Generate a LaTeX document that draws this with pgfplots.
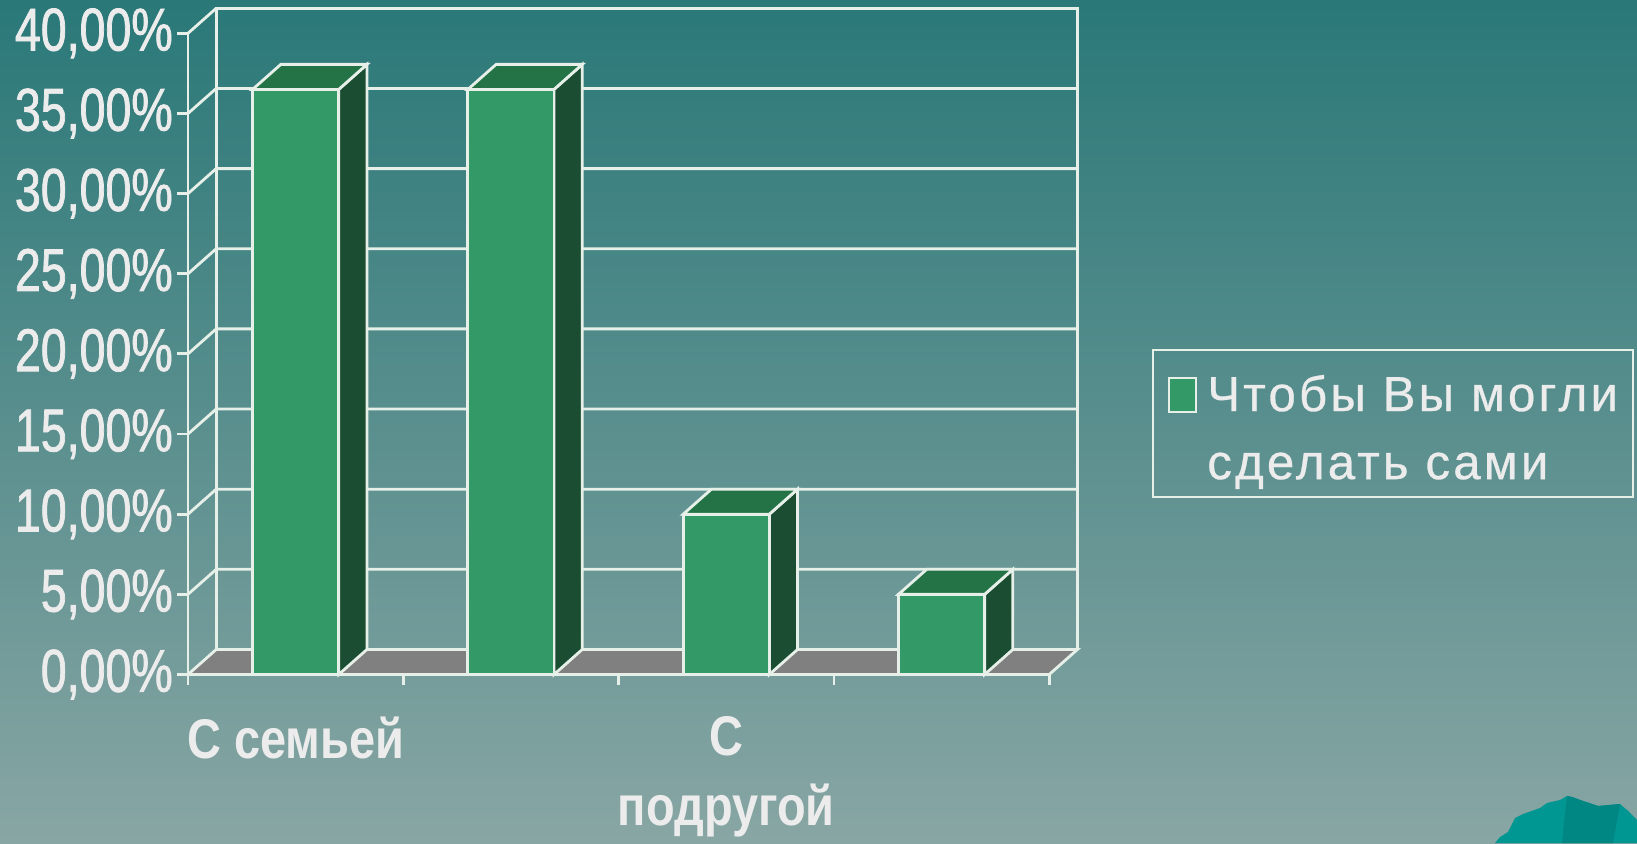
\documentclass[border=0pt]{standalone}
\usepackage{pgfplots}
\pgfplotsset{compat=1.18}
\usepackage{fontspec}
\setmainfont{Liberation Sans}
\newfontfamily\tickfont[FakeStretch=0.77, FakeBold=1.2]{Liberation Sans}
\newfontfamily\catfont[FakeStretch=0.84]{Liberation Sans}
\newfontfamily\legfont[LetterSpace=6.5, FakeBold=0.6]{Liberation Sans}

\definecolor{bgtop}{RGB}{42,120,120}
\definecolor{bgbot}{RGB}{136,166,164}
\definecolor{barfront}{RGB}{51,153,102}
\definecolor{barside}{RGB}{27,77,51}
\definecolor{bartop}{RGB}{35,115,70}
\definecolor{floorgrey}{RGB}{128,128,128}
\definecolor{edge}{RGB}{230,240,232}
\definecolor{textcol}{RGB}{236,236,236}
\definecolor{tealA}{RGB}{0,150,146}
\definecolor{tealB}{RGB}{0,134,131}

\begin{document}
\begin{tikzpicture}
% slide background
\fill[top color=bgtop, bottom color=bgbot] (0,0) rectangle (16.37,8.43);
\fill[tealA] (14.95,0) -- (15.00,0.06) -- (15.08,0.11) -- (15.15,0.25) -- (15.23,0.29)
  -- (15.40,0.35) -- (15.47,0.40) -- (15.60,0.43) -- (15.67,0.47) -- (15.72,0.46)
  -- (15.83,0.42) -- (15.98,0.37) -- (16.20,0.39) -- (16.27,0.33) -- (16.37,0.23)
  -- (16.37,0) -- cycle;
\fill[tealB] (15.67,0.47) -- (15.72,0.46) -- (15.83,0.42) -- (15.98,0.37) -- (16.20,0.39)
  -- (16.13,0) -- (15.62,0) -- cycle;

\begin{axis}[
    at={(1.88cm,1.685cm)}, anchor=south west,
    x=2.153cm, y=0.1603cm,
    xmin=0, xmax=4.131, ymin=0, ymax=41.56,
    enlargelimits=false, clip=false,
    axis line style={draw=none},
    tick pos=left, tick align=outside,
    major tick length=0.11cm,
    tick style={draw=edge, line width=0.8pt},
    xtick={0,1,2,3,4}, xticklabels={},
    extra x ticks={0.5,1.5,2.5,3.5},
    extra x tick labels={С семьей,,{С\\подругой},},
    extra x tick style={major tick length=0pt,
      tick label style={align=center, text=textcol, yshift=-0.30cm,
        font=\catfont\bfseries\fontsize{15.9}{19.8}\selectfont}},
    ytick={0,5,...,40},
    yticklabels={{0,00\%},{5,00\%},{10,00\%},{15,00\%},{20,00\%},{25,00\%},{30,00\%},{35,00\%},{40,00\%}},
    yticklabel style={text=textcol, inner xsep=1pt,
      font=\tickfont\fontsize{17.2}{19}\selectfont},
    legend style={at={(1.084,0.4886)}, anchor=north west,
      draw=edge, line width=0.6pt, fill=none, text=textcol,
      font=\legfont\fontsize{14}{16}\selectfont,
      inner xsep=0.15cm, inner ysep=0.16cm,
      column sep=0.1cm, row sep=0.21cm,
      nodes={inner sep=0pt, text height=0.45cm, text depth=0.02cm},
      cells={anchor=base west}},
  ]

  % floor
  \addplot[fill=floorgrey, draw=edge, line width=0.8pt, forget plot]
    coordinates {(0,0) (4,0) (4.131,1.56) (0.131,1.56)} -- cycle;

  % back wall and gridlines
  \addplot[edge, line width=0.8pt, forget plot]
    coordinates {(0.131,1.56) (0.131,41.56) (4.131,41.56) (4.131,1.56)};
  \addplot[edge, line width=0.8pt, forget plot] coordinates {(0,0) (0,40)};
  \addplot[edge, line width=0.8pt, forget plot] coordinates {(0,5) (0.131,6.56) (4.131,6.56)};
  \addplot[edge, line width=0.8pt, forget plot] coordinates {(0,10) (0.131,11.56) (4.131,11.56)};
  \addplot[edge, line width=0.8pt, forget plot] coordinates {(0,15) (0.131,16.56) (4.131,16.56)};
  \addplot[edge, line width=0.8pt, forget plot] coordinates {(0,20) (0.131,21.56) (4.131,21.56)};
  \addplot[edge, line width=0.8pt, forget plot] coordinates {(0,25) (0.131,26.56) (4.131,26.56)};
  \addplot[edge, line width=0.8pt, forget plot] coordinates {(0,30) (0.131,31.56) (4.131,31.56)};
  \addplot[edge, line width=0.8pt, forget plot] coordinates {(0,35) (0.131,36.56) (4.131,36.56)};
  \addplot[edge, line width=0.8pt, forget plot] coordinates {(0,40) (0.131,41.56)};

  % side faces of the bars
  \addplot[fill=barside, draw=edge, line width=0.8pt, forget plot]
    coordinates {(0.7,0) (0.831,1.56) (0.831,38.06) (0.7,36.5)} -- cycle;
  \addplot[fill=barside, draw=edge, line width=0.8pt, forget plot]
    coordinates {(1.7,0) (1.831,1.56) (1.831,38.06) (1.7,36.5)} -- cycle;
  \addplot[fill=barside, draw=edge, line width=0.8pt, forget plot]
    coordinates {(2.7,0) (2.831,1.56) (2.831,11.56) (2.7,10)} -- cycle;
  \addplot[fill=barside, draw=edge, line width=0.8pt, forget plot]
    coordinates {(3.7,0) (3.831,1.56) (3.831,6.56) (3.7,5)} -- cycle;

  % top faces of the bars
  \addplot[fill=bartop, draw=edge, line width=0.8pt, forget plot]
    coordinates {(0.3,36.5) (0.431,38.06) (0.831,38.06) (0.7,36.5)} -- cycle;
  \addplot[fill=bartop, draw=edge, line width=0.8pt, forget plot]
    coordinates {(1.3,36.5) (1.431,38.06) (1.831,38.06) (1.7,36.5)} -- cycle;
  \addplot[fill=bartop, draw=edge, line width=0.8pt, forget plot]
    coordinates {(2.3,10) (2.431,11.56) (2.831,11.56) (2.7,10)} -- cycle;
  \addplot[fill=bartop, draw=edge, line width=0.8pt, forget plot]
    coordinates {(3.3,5) (3.431,6.56) (3.831,6.56) (3.7,5)} -- cycle;

  % front faces
  \addplot[ybar, bar width=0.4, fill=barfront, draw=edge, line width=0.8pt,
    legend image code/.code={\draw[fill=barfront, draw=edge, line width=0.6pt]
      (0cm,-0.01cm) rectangle (0.27cm,0.33cm);}]
    coordinates {(0.5,36.5) (1.5,36.5) (2.5,10) (3.5,5)};
  \addlegendentry{Чтобы Вы могли}
  \addlegendimage{empty legend}
  \addlegendentry{сделать сами}
\end{axis}
\pgfresetboundingbox
\path[use as bounding box] (0,0) rectangle (16.37,8.43);
\end{tikzpicture}
\end{document}
